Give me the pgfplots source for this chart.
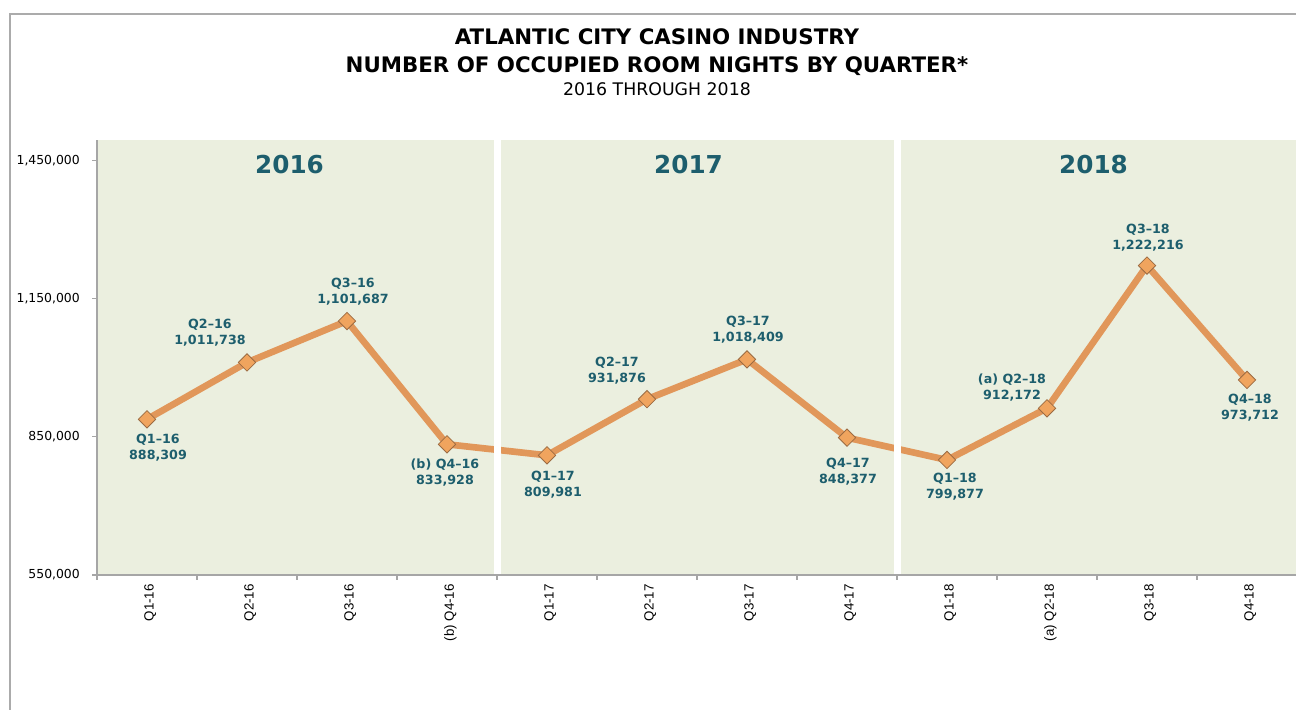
\documentclass[border=0pt]{standalone}
\usepackage{fontspec}
\setmainfont{DejaVu Sans}
\newfontfamily\arialfont{Liberation Sans}
\usepackage{pgfplots}
\pgfplotsset{compat=1.18}

\definecolor{panelgreen}{HTML}{EBEFDF}
\definecolor{labelteal}{HTML}{1D5E6D}
\definecolor{lineorange}{HTML}{E1975A}
\definecolor{markfill}{HTML}{F0A45E}
\definecolor{markedge}{HTML}{9C6B42}
\definecolor{framegray}{HTML}{ABABAB}
\definecolor{axisgray}{HTML}{A6A6A6}

\tikzset{
  datalabel/.style={font=\fontsize{9.5}{12}\selectfont\bfseries, text=labelteal, align=center, inner sep=0pt},
  yearlabel/.style={font=\fontsize{18.5}{20}\selectfont\bfseries, text=labelteal, inner sep=0pt}
}

\begin{document}
\begin{tikzpicture}
\path[use as bounding box] (0,0) rectangle (972pt,532.5pt);
\draw[framegray, line width=1.1pt] (7.5pt,-1pt) -- (7.5pt,522pt) -- (973pt,522pt);

\node[anchor=base, font=\fontsize{16}{16}\selectfont\bfseries] at (492.75pt,498.75pt) {ATLANTIC CITY CASINO INDUSTRY};
\node[anchor=base, font=\fontsize{16}{16}\selectfont\bfseries] at (492.75pt,477.75pt) {NUMBER OF OCCUPIED ROOM NIGHTS BY QUARTER*};
\node[anchor=base, font=\fontsize{13}{13}\selectfont] at (492.75pt,460.5pt) {2016 THROUGH 2018};

\begin{axis}[
  at={(72.75pt,101.25pt)}, anchor=south west,
  width=900pt, height=326.25pt, scale only axis,
  xmin=-0.5, xmax=11.5, ymin=550000, ymax=1495000,
  clip=false, axis on top,
  axis x line*=bottom, axis y line*=left,
  axis line style={draw=axisgray, line width=1.1pt, -},
  tick align=outside,
  xtick={0,...,11},
  xticklabels={Q1-16, Q2-16, Q3-16, (b) Q4-16, Q1-17, Q2-17, Q3-17, Q4-17, Q1-18, (a) Q2-18, Q3-18, Q4-18},
  minor xtick={-0.5,0.5,...,11.5},
  major x tick style={draw=none},
  minor x tick style={draw=axisgray, line width=0.8pt},
  minor tick length=3.75pt,
  xticklabel style={rotate=90, anchor=east, yshift=-2.5pt, font=\arialfont\fontsize{10}{10}\selectfont},
  ytick={550000,850000,1150000,1450000},
  major y tick style={draw=axisgray, line width=0.8pt},
  major tick length=3.4pt,
  scaled y ticks=false,
  yticklabel style={xshift=-6pt, font=\fontsize{9.3}{10}\selectfont},
  /pgf/number format/.cd, fixed, precision=0, 1000 sep={,}, assume math mode=true,
]
% shaded background
\addplot[fill=panelgreen, draw=none] coordinates {(-0.5,550000) (-0.5,1495000) (11.5,1495000) (11.5,550000)} -- cycle;

% series
\addplot[lineorange, line width=5pt, mark=square*, mark size=4.6pt,
  mark options={rotate=45, fill=markfill, draw=markedge, line width=0.6pt}]
  coordinates {
  (0,888309) (1,1011738) (2,1101687) (3,833928)
  (4,809981) (5,931876) (6,1018409) (7,848377)
  (8,799877) (9,912172) (10,1222216) (11,973712)
  };

% white separators between years
\addplot[fill=white, draw=none] coordinates {(3.465,550000) (3.465,1495000) (3.535,1495000) (3.535,550000)} -- cycle;
\addplot[fill=white, draw=none] coordinates {(7.465,550000) (7.465,1495000) (7.535,1495000) (7.535,550000)} -- cycle;

\node[yearlabel] at (axis cs:1.425,1441304) {2016};
\node[yearlabel] at (axis cs:5.415,1441304) {2017};
\node[yearlabel] at (axis cs:9.465,1441304) {2018};

\node[datalabel] at (axis cs:0.11,826087) {Q1–16\\888,309};
\node[datalabel] at (axis cs:0.63,1076087) {Q2–16\\1,011,738};
\node[datalabel] at (axis cs:2.06,1166304) {Q3–16\\1,101,687};
\node[datalabel] at (axis cs:2.98,771739) {(b) Q4–16\\833,928};
\node[datalabel] at (axis cs:4.06,746739) {Q1–17\\809,981};
\node[datalabel] at (axis cs:4.70,994565) {Q2–17\\931,876};
\node[datalabel] at (axis cs:6.01,1083696) {Q3–17\\1,018,409};
\node[datalabel] at (axis cs:7.01,773913) {Q4–17\\848,377};
\node[datalabel] at (axis cs:8.08,742391) {Q1–18\\799,877};
\node[datalabel] at (axis cs:8.65,956522) {(a) Q2–18\\912,172};
\node[datalabel] at (axis cs:10.01,1282609) {Q3–18\\1,222,216};
\node[datalabel] at (axis cs:11.03,913043) {Q4–18\\973,712};
\end{axis}
\end{tikzpicture}
\end{document}
